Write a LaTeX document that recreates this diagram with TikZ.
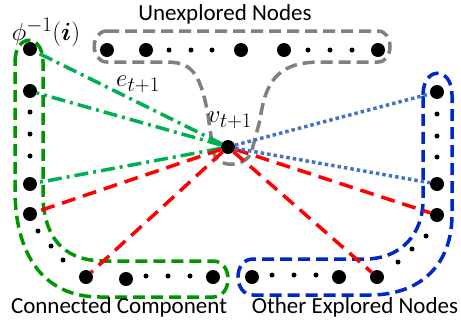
\documentclass[tikz,border=0pt]{standalone}
\usepackage{amsmath}
\usepackage{fontspec}
\newfontfamily\labelfont{Carlito}
\usetikzlibrary{positioning}

\definecolor{edgegreen}{RGB}{0,176,80}
\definecolor{hullgreen}{RGB}{0,150,0}
\definecolor{edgeblue}{RGB}{68,114,196}
\definecolor{hullblue}{RGB}{0,40,200}
\definecolor{hullgray}{RGB}{128,128,128}

\begin{document}
\begin{tikzpicture}[x=1pt,y=-1pt,
            bigdot/.style={
            circle,
            fill=black,
            inner sep=0pt,
            minimum size=14pt},
        smalldot/.style={circle,fill=black,inner sep=0pt,minimum size=5pt},
        hull/.style={line width=3.5pt,dash pattern=on 12pt off 6pt},
        greenedge/.style={edgegreen,line width=3.5pt,dash pattern=on 14pt off 5pt on 3pt off 5pt},
        rededge/.style={red,line width=3.5pt,dash pattern=on 14pt off 8pt},
        blueedge/.style={edgeblue,line width=3.5pt,dash pattern=on 3.5pt off 3pt},
        grouplabel/.style={font=\labelfont\fontsize{23}{27}\selectfont},
        mathlabel/.style={font=\fontsize{24.88}{30}\selectfont}
        ]
        \useasboundingbox (0,0) rectangle (461,330);

        % outlines of the three groups
        \draw[hull,hullgray] (107,31) -- (378,31) .. controls (394,31) and (394,62) .. (378,62)
            -- (320,62) .. controls (275,62) and (265,85) .. (260,120)
            -- (252,150) .. controls (248,168) and (215,170) .. (213,150)
            -- (208,115) .. controls (200,70) and (190,62) .. (165,62)
            -- (107,62) .. controls (90,62) and (90,31) .. (107,31) -- cycle;
        \draw[hull,hullgreen] (15,62) .. controls (15,33) and (43,33) .. (43,62)
            -- (43,200) .. controls (46,245) and (70,261) .. (105,261)
            -- (213,261) .. controls (233,261) and (233,297) .. (213,297)
            -- (100,297) .. controls (40,297) and (15,250) .. (15,190) -- cycle;
        \draw[hull,hullblue] (423,95) .. controls (423,66) and (452,66) .. (452,95)
            -- (452,215) .. controls (452,265) and (420,295) .. (370,295)
            -- (253,295) .. controls (233,295) and (233,259) .. (253,259)
            -- (365,259) .. controls (400,259) and (423,235) .. (423,200) -- cycle;

        \node[bigdot] (v) at (228,147) {};
        \foreach \n/\x/\y in {% name/x/y
            u1/107/50, u2/146/50, u3/241/50, u4/284/50, u5/378/50,
            c1/30/49, c2/30/91, c3/30/184, c4/30/214, c5/86/277, c6/126/279, c7/213/277,
            o1/437/92, o2/437/184, o3/437/215, o4/377/277, o5/339/277, o6/252/277}
            \node[bigdot] (\n) at (\x,\y) {};
        \foreach \n/\x/\y in {
            du1/169/50, du2/191/50, du3/212/50, du4/308/50, du5/330/50, du6/352/50,
            dc1/30/112, dc2/30/134, dc3/30/156, dc4/38/231, dc5/51/246, dc6/63/260,
            dc7/146/276, dc8/168/276, dc9/190/276,
            do1/437/114, do2/437/136, do3/437/157, do4/426/236, do5/412/249, do6/398/262,
            do7/316/275, do8/294/275, do9/272/275}
            \node[smalldot] (\n) at (\x,\y) {};

        \foreach \j/\s in {% end node/style
            c1/greenedge,
            c2/greenedge,
            c3/greenedge,
            c4/rededge,
            c5/rededge,
            o3/rededge,
            o4/rededge,
            o1/blueedge,
            o2/blueedge}
            \draw [\s] (v) -- (\j);

        \node[mathlabel] (phi) at (46,32) {$\phi^{-1}(\boldsymbol{i})$};
        \node[mathlabel] (vlab) at (230,120) {$v_{t+1}$};
        \node[mathlabel] (elab) at (138,84) {$e_{t+1}$};
        \node[grouplabel] (unexpl) at (225,14) {Unexplored Nodes};
        \node[grouplabel] (conn) at (119,307) {Connected Component};
        \node[grouplabel] (other) at (355,307) {Other Explored Nodes};
        \end{tikzpicture}
\end{document}
